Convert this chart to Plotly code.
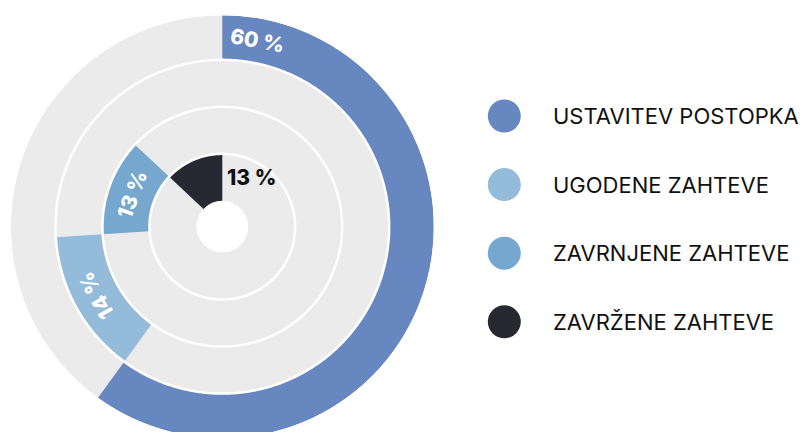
import numpy as np
import plotly.graph_objects as go

# Shares per category, outermost ring first
categories = ["USTAVITEV POSTOPKA", "UGODENE ZAHTEVE", "ZAVRNJENE ZAHTEVE", "ZAVRŽENE ZAHTEVE"]
values = [60, 14, 13, 13]
colors = ["#6787c1", "#94bbda", "#76a7cf", "#272832"]
value_labels = ["60 %", "14 %", "13 %", "13 %"]

# Where along its arc each label sits (fraction of the segment); None = outside the ring
label_frac = [0.05, 0.5, 0.5, None]

TRACK = "#ebebeb"
W, H = 801, 439
R_MAX = 4.5
ring_base = [3.55, 2.55, 1.55, 0.55]
ring_thick = [0.95, 1.0, 1.0, 1.0]

# Polar area: square, centred on the ring centre
cx, cy, rad_px = 222.3, 226.7, 211.5
dom_x = [(cx - rad_px) / W, (cx + rad_px) / W]
dom_y = [max(0.0, (H - cy - rad_px) / H), min(1.0, (H - cy + rad_px) / H)]

fig = go.Figure()

# Grey background tracks
fig.add_trace(go.Barpolar(
    r=ring_thick, base=ring_base, theta=[180] * 4, width=[360] * 4,
    marker=dict(color=TRACK, line=dict(width=0)),
    hoverinfo="skip", showlegend=False,
))

# Coloured segments, each ring continues where the previous one ended
starts = np.concatenate([[0], np.cumsum(values)[:-1]]) * 3.6
spans = np.array(values) * 3.6
fig.add_trace(go.Barpolar(
    r=ring_thick, base=ring_base, theta=starts + spans / 2, width=spans,
    marker=dict(color=colors, line=dict(width=0)),
    text=categories, hovertemplate="%{text}<extra></extra>", showlegend=False,
))

# White separators between rings
circle_theta = np.linspace(0, 360, 721)
for rb in ring_base[:-1]:
    fig.add_trace(go.Scatterpolar(
        r=[rb] * len(circle_theta), theta=circle_theta, mode="lines",
        line=dict(color="white", width=2.5), hoverinfo="skip", showlegend=False,
    ))

fig.update_layout(
    width=W, height=H, margin=dict(l=0, r=0, t=0, b=0),
    paper_bgcolor="white", plot_bgcolor="rgba(0,0,0,0)",
    font=dict(family="Inter, sans-serif"),
    polar=dict(
        domain=dict(x=dom_x, y=dom_y), bgcolor="rgba(0,0,0,0)", bargap=0,
        radialaxis=dict(visible=False, range=[0, R_MAX]),
        angularaxis=dict(visible=False, direction="clockwise", rotation=90),
    ),
    # overlay axes aligned with the polar area, used for placing value labels
    xaxis2=dict(domain=dom_x, range=[-R_MAX, R_MAX], visible=False, anchor="y2"),
    yaxis2=dict(domain=dom_y, range=[-R_MAX, R_MAX], visible=False, anchor="x2"),
    # overlay axes for the legend, in pixel units
    xaxis=dict(domain=[0, 1], range=[0, W], visible=False),
    yaxis=dict(domain=[0, 1], range=[H, 0], visible=False),
)

# Value labels along the arcs
annotations = []
for i, lab in enumerate(value_labels):
    mid_r = ring_base[i] + ring_thick[i] / 2
    if label_frac[i] is not None:
        ang = starts[i] + spans[i] * label_frac[i]
        a = np.radians(ang)
        annotations.append(dict(
            x=mid_r * np.sin(a), y=mid_r * np.cos(a), xref="x2", yref="y2",
            text=lab, showarrow=False, textangle=((ang + 180) % 360) - 180,
            font=dict(color="white", size=21, family="Inter", weight=800),
        ))
    else:
        ang = starts[i] + spans[i]
        a = np.radians(ang)
        annotations.append(dict(
            x=mid_r * np.sin(a), y=mid_r * np.cos(a), xref="x2", yref="y2",
            text=lab, showarrow=False, xanchor="left", xshift=3,
            font=dict(color="#111111", size=21, family="Inter", weight=800),
        ))

# Legend: large dots with labels
leg_x, leg_y0, leg_step, text_x = 504.3, 116, 68.6, 551.7
leg_y = [leg_y0 + leg_step * i for i in range(len(categories))]
fig.add_trace(go.Scatter(
    x=[leg_x] * len(categories), y=leg_y, mode="markers",
    marker=dict(size=33, color=colors, line=dict(width=0)),
    hoverinfo="skip", showlegend=False, xaxis="x", yaxis="y",
))
for name, yy in zip(categories, leg_y):
    annotations.append(dict(
        x=text_x, y=yy, xref="x", yref="y", text=name, showarrow=False,
        xanchor="left", yanchor="middle", borderpad=0,
        font=dict(color="#111111", size=22, family="Inter"),
    ))

fig.update_layout(annotations=annotations)
fig.write_html("out.html")
